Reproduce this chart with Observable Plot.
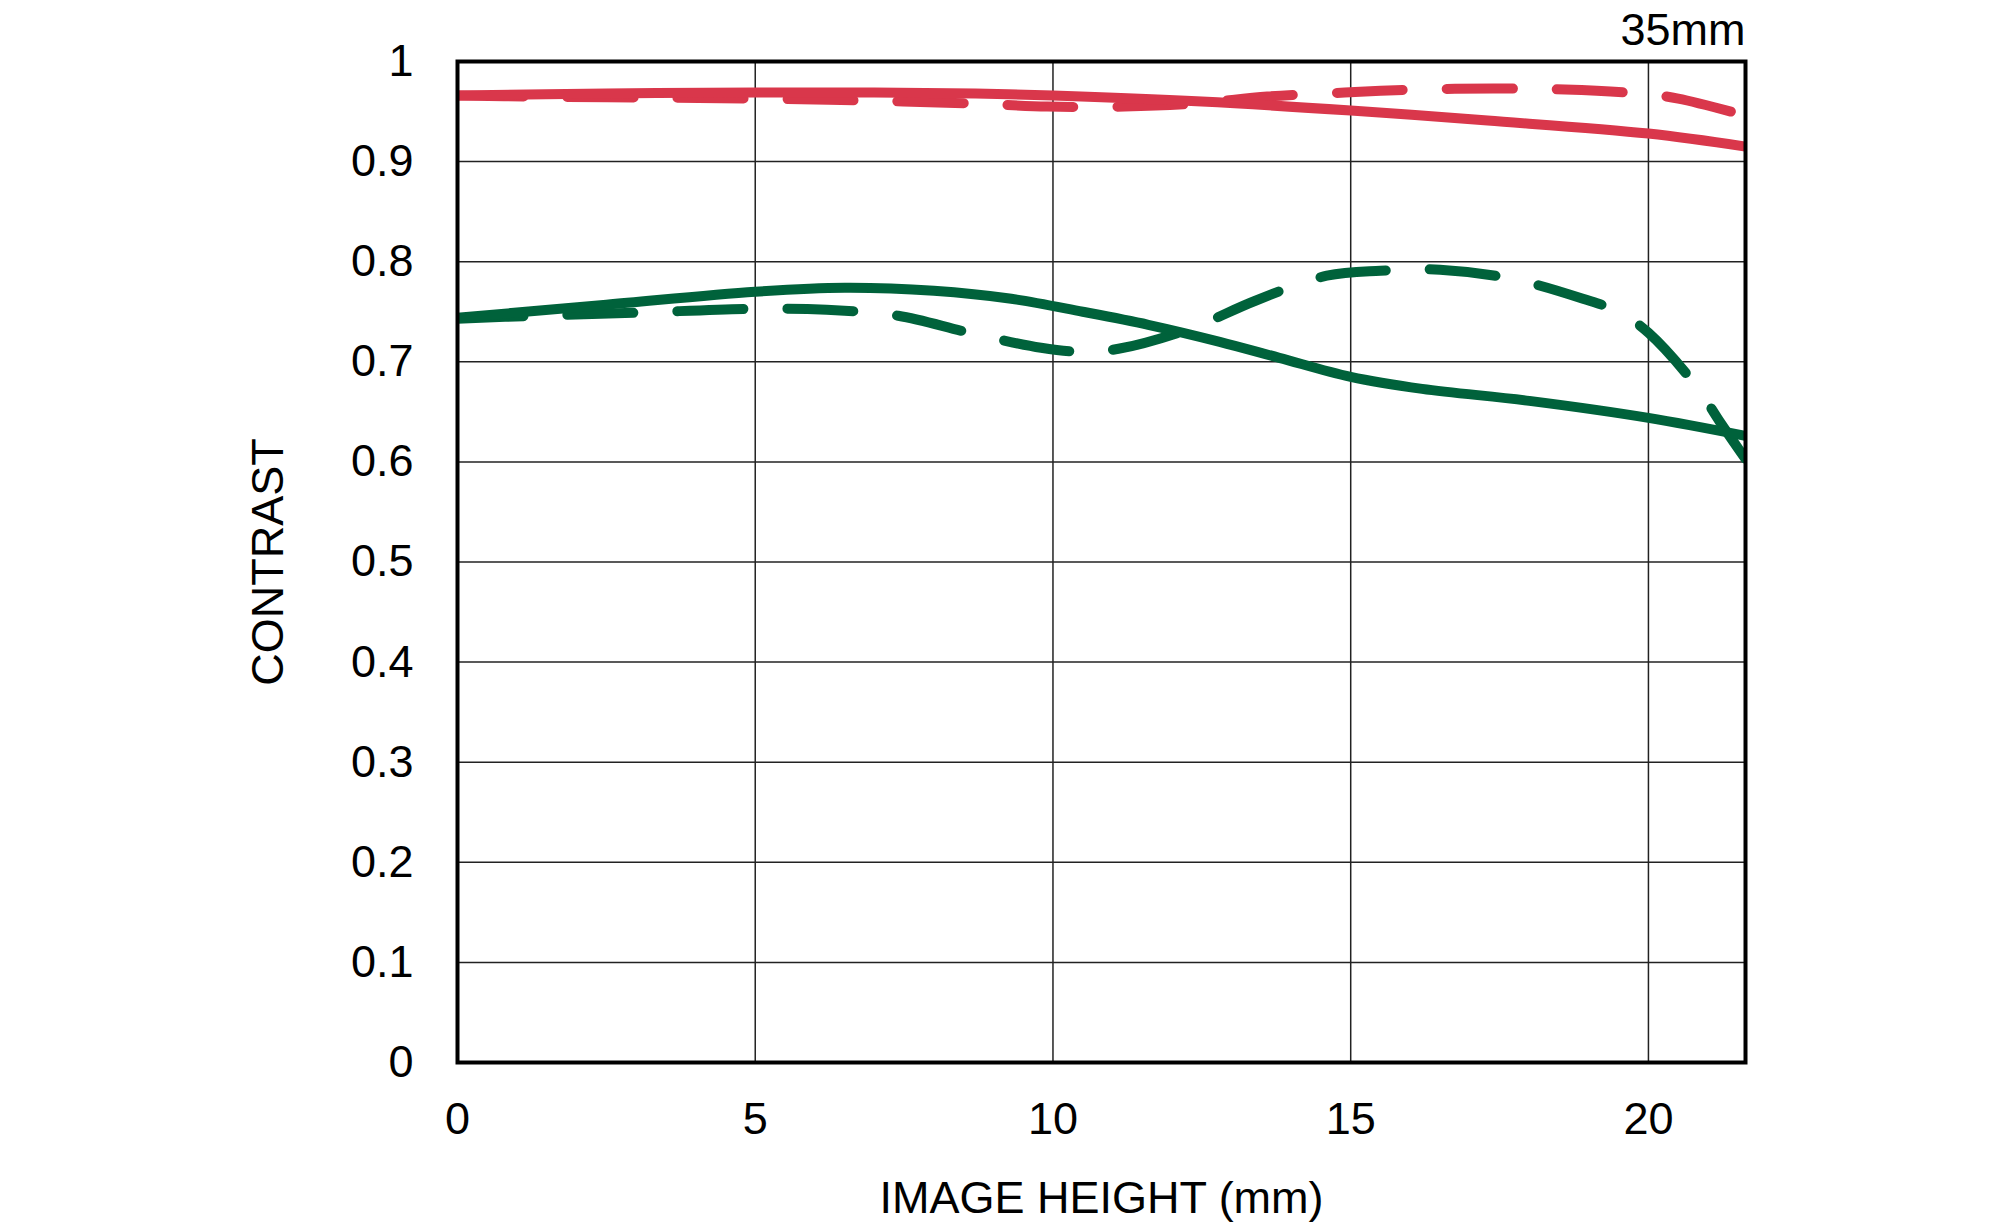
<!DOCTYPE html>
<html>
<head>
<meta charset="utf-8">
<script src="https://cdn.jsdelivr.net/npm/d3@7"></script>
<script src="https://cdn.jsdelivr.net/npm/@observablehq/plot@0.6"></script>
<style>
  html, body { margin: 0; padding: 0; background: #fff; overflow: hidden; }
</style>
</head>
<body>
<div id="chart"></div>
<script>
// MTF values
const redSolidX = [0, 2.5, 5, 7, 8.7, 10, 12.5, 15, 17.3, 20, 21.63];
const redSolidY = [0.966, 0.968, 0.969, 0.969, 0.968, 0.966, 0.960, 0.951, 0.941, 0.928, 0.915];

const redDashX = [0, 1.25, 3.1, 5, 6.85, 8.7, 9.9, 11.2, 12.4, 13.6, 14.9, 16.1, 17.4, 18.6, 19.85, 20.5, 21.63];
const redDashY = [0.966, 0.965, 0.964, 0.963, 0.961, 0.958, 0.955, 0.955, 0.958, 0.965, 0.969, 0.972, 0.973, 0.972, 0.968, 0.963, 0.946];

const greenSolidX = [0, 2.5, 5, 6.5, 8, 9.3, 10.5, 11.6, 12.8, 13.8, 15, 16.2, 18, 20, 21.63];
const greenSolidY = [0.744, 0.757, 0.770, 0.774, 0.771, 0.763, 0.750, 0.737, 0.720, 0.704, 0.685, 0.673, 0.661, 0.644, 0.626];

const greenDashX = [0, 1.3, 3, 5, 6.2, 7.4, 8.6, 9.8, 10.5, 11.1, 12.3, 13.4, 14.6, 15.5, 16.5, 17.7, 18.9, 19.5, 20.0, 20.8, 21.2, 21.63];
const greenDashY = [0.743, 0.746, 0.749, 0.753, 0.752, 0.746, 0.729, 0.714, 0.710, 0.713, 0.733, 0.761, 0.786, 0.791, 0.792, 0.783, 0.763, 0.750, 0.729, 0.676, 0.640, 0.603];

const xTicks = [0, 5, 10, 15, 20];
const yTicks = [0, 0.1, 0.2, 0.3, 0.4, 0.5, 0.6, 0.7, 0.8, 0.9, 1];
const xMax = 21.63;

const red = "#d9374b";
const green = "#00623b";
const dash = "66,44";

const lineOpts = (stroke, dashed) => ({
  stroke,
  strokeWidth: 10,
  strokeLinecap: "round",
  strokeDasharray: dashed ? dash : null,
  curve: "catmull-rom",
  clip: "frame"
});

const plot = Plot.plot({
  width: 2000,
  height: 1222,
  marginLeft: 457,
  marginRight: 255,
  marginTop: 61,
  marginBottom: 160,
  style: { fontFamily: "'Liberation Sans', Arial, sans-serif", fontSize: "45px", color: "#000", background: "#fff" },
  x: { domain: [0, xMax] },
  y: { domain: [0, 1] },
  marks: [
    Plot.gridX(xTicks, { stroke: "#222", strokeOpacity: 1, strokeWidth: 1.5 }),
    Plot.gridY(yTicks, { stroke: "#222", strokeOpacity: 1, strokeWidth: 1.5 }),
    Plot.line(d3.zip(redDashX, redDashY), lineOpts(red, true)),
    Plot.line(d3.zip(redSolidX, redSolidY), lineOpts(red, false)),
    Plot.line(d3.zip(greenDashX, greenDashY), lineOpts(green, true)),
    Plot.line(d3.zip(greenSolidX, greenSolidY), lineOpts(green, false)),
    Plot.frame({ stroke: "#000", strokeWidth: 4 }),
    Plot.axisX({ ticks: xTicks, tickSize: 0, tickPadding: 40, fontSize: 45, label: null }),
    Plot.axisY({
      ticks: yTicks,
      tickSize: 0,
      tickPadding: 44,
      fontSize: 45,
      label: null,
      tickFormat: (d) => (d === 0 || d === 1 ? String(d) : d.toFixed(1))
    }),
    Plot.text(["CONTRAST"], { frameAnchor: "left", rotate: -90, dx: -189, fontSize: 45, textAnchor: "middle" }),
    Plot.text(["IMAGE HEIGHT (mm)"], { frameAnchor: "bottom", dy: 150, lineAnchor: "bottom", fontSize: 45 }),
    Plot.text(["35mm"], { frameAnchor: "top-right", dy: -17, lineAnchor: "bottom", textAnchor: "end", fontSize: 45 })
  ]
});

document.querySelector("#chart").append(plot);
</script>
</body>
</html>
